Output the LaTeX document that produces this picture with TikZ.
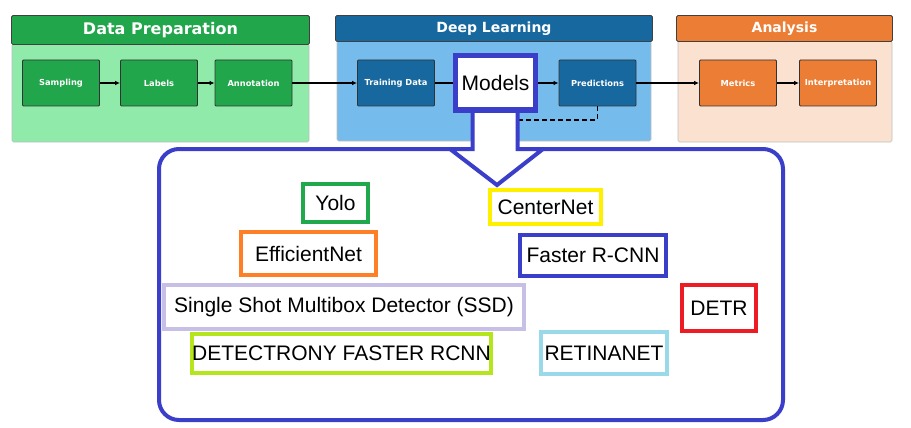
\documentclass[tikz,border=0pt]{standalone}
\usepackage{fontspec}
\setmainfont{Liberation Sans}
\newfontfamily\headfont{DejaVu Sans}
\usetikzlibrary{arrows.meta}

% Colours
\definecolor{prepHeadGreen}{RGB}{34,166,75}
\definecolor{prepBodyGreen}{RGB}{144,234,170}
\definecolor{deepHeadBlue}{RGB}{24,104,160}
\definecolor{deepBodyBlue}{RGB}{117,187,235}
\definecolor{anaHeadOrange}{RGB}{236,125,52}
\definecolor{anaBodyOrange}{RGB}{251,225,208}
\definecolor{modelBlue}{RGB}{58,62,200}
\definecolor{yoloGreen}{RGB}{34,168,76}
\definecolor{centerYellow}{RGB}{255,240,0}
\definecolor{effOrange}{RGB}{255,127,39}
\definecolor{ssdLavender}{RGB}{200,191,231}
\definecolor{detrRed}{RGB}{237,28,36}
\definecolor{detLime}{RGB}{181,230,29}
\definecolor{retinaBlue}{RGB}{153,217,234}

\begin{document}
\begin{tikzpicture}[x=1pt, y=-1pt,
    stagehead/.style={draw=black!75, line width=0.8pt, rounded corners=1.5pt,
        text=white, inner sep=0pt},
    stagebody/.style={draw=black!25, line width=0.6pt, rounded corners=1.5pt},
    stagebox/.style={draw=black!80, line width=0.8pt, rounded corners=1pt,
        text=white, font=\headfont\bfseries\fontsize{8.3}{10}\selectfont,
        minimum width=77pt, minimum height=46pt, inner sep=0pt},
    modelbox/.style={line width=4pt, fill=white,
        font=\fontsize{21}{25}\selectfont, inner sep=0pt},
    flow/.style={line width=1.3pt, -{Latex[length=5pt,width=4.5pt]}}
]
\useasboundingbox (0,0) rectangle (911,428);

% Row height of the pipeline
\def\rowy{83}

% --- Panel bodies ---
\filldraw[stagebody, fill=prepBodyGreen] (12,44) rectangle (309,142);
\filldraw[stagebody, fill=deepBodyBlue]  (337,41) rectangle (651,141);
\filldraw[stagebody, fill=anaBodyOrange] (678,41) rectangle (892,142);

% --- Panel headers ---
\node[stagehead, fill=prepHeadGreen, minimum width=298pt, minimum height=29pt,
      font=\headfont\bfseries\fontsize{16}{19}\selectfont] (prepHead) at (160.5,30) {Data Preparation};
\node[stagehead, fill=deepHeadBlue, minimum width=317pt, minimum height=26pt,
      font=\headfont\bfseries\fontsize{14}{17}\selectfont] (deepHead) at (494,28.5) {Deep Learning};
\node[stagehead, fill=anaHeadOrange, minimum width=216pt, minimum height=26pt,
      font=\headfont\bfseries\fontsize{14}{17}\selectfont] (anaHead) at (784.5,28.5) {Analysis};

% --- Pipeline steps ---
\node[stagebox, fill=prepHeadGreen] (sampling)    at (61,\rowy)    {Sampling};
\node[stagebox, fill=prepHeadGreen] (labels)      at (159,\rowy)   {Labels};
\node[stagebox, fill=prepHeadGreen] (annotation)  at (253.5,\rowy) {Annotation};
\node[stagebox, fill=deepHeadBlue]  (trainData)   at (396,\rowy)   {Training Data};
\node[stagebox, fill=deepHeadBlue]  (predictions) at (597.5,\rowy) {Predictions};
\node[stagebox, fill=anaHeadOrange] (metrics)     at (738,\rowy)   {Metrics};
\node[stagebox, fill=anaHeadOrange] (interp)      at (838,\rowy)   {Interpretation};

% Arrow shaft edges
\def\shaftL{472.5}
\def\shaftR{517.5}
\coordinate (dashEnd) at (\shaftR,120);

% Dashed feedback from Predictions
\draw[line width=1.3pt, dash pattern=on 5pt off 3pt] (predictions.south) |- (dashEnd);

% --- Callout frame ---
\draw[modelBlue, line width=4pt, rounded corners=20pt] (159,149) rectangle (783,420);

% Big hollow arrow
\filldraw[fill=white, draw=modelBlue, line width=4pt, line join=miter]
    (\shaftL,100) -- (\shaftL,149) -- (450,149) -- (497,185)
    -- (543,149) -- (\shaftR,149) -- (\shaftR,100);

\node[modelbox, draw=modelBlue, line width=5pt, minimum width=80pt,
      minimum height=54pt] (models) at (495.5,\rowy) {Models};

% --- Connectors ---
\draw[flow] (sampling) -- (labels);
\draw[flow] (labels) -- (annotation);
\draw[flow] (annotation) -- (trainData);
\draw[line width=1.3pt] (trainData) -- (models);
\draw[flow] (models) -- (predictions);
\draw[flow] (predictions) -- (metrics);
\draw[flow] (metrics) -- (interp);

% --- Detection models ---
\node[modelbox, draw=yoloGreen, minimum width=65pt, minimum height=38pt] (yolo) at (335.5,203) {Yolo};
\node[modelbox, draw=centerYellow, minimum width=111pt, minimum height=34pt] (centerNet) at (545.5,207) {CenterNet};
\node[modelbox, draw=effOrange, minimum width=135pt, minimum height=43pt] (effNet) at (308.5,253.5) {EfficientNet};
\node[modelbox, draw=modelBlue, minimum width=146pt, minimum height=41pt] (fasterRcnn) at (593,255.5) {Faster R-CNN};
\node[modelbox, draw=ssdLavender, minimum width=360pt, minimum height=44pt] (ssd) at (344,307) {Single Shot Multibox Detector (SSD)};
\node[modelbox, draw=detrRed, minimum width=74pt, minimum height=46pt] (detr) at (719,308) {DETR};
\node[modelbox, draw=detLime, minimum width=295pt, minimum height=39pt] (detectron) at (341.5,353.5) {DETECTRONY FASTER RCNN};
\node[modelbox, draw=retinaBlue, minimum width=126pt, minimum height=42pt] (retina) at (604,353) {RETINANET};

\end{tikzpicture}
\end{document}
